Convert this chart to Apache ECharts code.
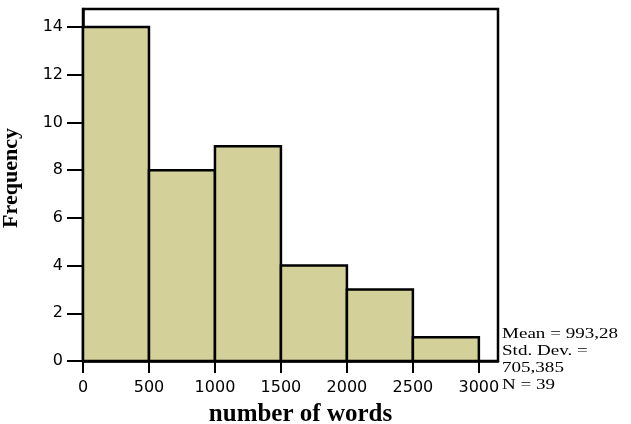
<!DOCTYPE html>
<html><head><meta charset="utf-8">
<script src="https://cdn.jsdelivr.net/npm/echarts@6/dist/echarts.min.js"></script>
<style>html,body{margin:0;padding:0;background:#fff}#c{width:631px;height:424px}</style>
</head><body><div id="c"></div>
<script>
const binStarts = [0, 500, 1000, 1500, 2000, 2500];
const binEnds = [500, 1000, 1500, 2000, 2500, 3000];
const counts = [14, 8, 9, 4, 3, 1];
const xTicks = [0, 500, 1000, 1500, 2000, 2500, 3000];
const yTicks = [0, 2, 4, 6, 8, 10, 12, 14];
const statsLines = ['Mean = 993,28', 'Std. Dev. =', '705,385', 'N = 39'];

const chart = echarts.init(document.getElementById('c'), null, {renderer: 'canvas'});
const data = binStarts.map((s, i) => [s, binEnds[i], counts[i]]);
chart.setOption({
  animation: false,
  grid: {left: 83, right: 133, top: 9, bottom: 63, show: true, borderColor: '#000', borderWidth: 2.5,
         backgroundColor: 'transparent', outerBoundsMode: 'none', containLabel: false},
  xAxis: {
    type: 'value', min: 0, max: 3145, interval: 500,
    name: 'number of words', nameLocation: 'middle', nameGap: 41,
    nameTextStyle: {fontFamily: 'Liberation Serif', fontWeight: 'bold', fontSize: 25, color: '#000',
                    padding: [0, 0, 0, 20]},
    axisLine: {show: true, onZero: false, lineStyle: {color: '#000', width: 2.5}},
    axisTick: {show: true, length: 12, lineStyle: {color: '#000', width: 2}, customValues: xTicks},
    axisLabel: {fontFamily: 'DejaVu Sans', fontSize: 16, color: '#000', margin: 19, customValues: xTicks,
                formatter: v => String(v)},
    splitLine: {show: false}
  },
  yAxis: {
    type: 'value', min: 0, max: 14.76, interval: 2,
    name: 'Frequency', nameLocation: 'middle', nameGap: 61, nameRotate: 90,
    nameTextStyle: {fontFamily: 'Liberation Serif', fontWeight: 'bold', fontSize: 22, color: '#000',
                    padding: [0, 0, 0, 14]},
    axisLine: {show: true, lineStyle: {color: '#000', width: 2.5}},
    axisTick: {show: true, length: 16, lineStyle: {color: '#000', width: 2}, customValues: yTicks},
    axisLabel: {fontFamily: 'DejaVu Sans', fontSize: 16, color: '#000', margin: 20, customValues: yTicks,
                formatter: v => String(v)},
    splitLine: {show: false}
  },
  series: [{
    type: 'custom',
    data: data,
    encode: {x: [0, 1], y: 2},
    renderItem: function (params, api) {
      const p0 = api.coord([api.value(0), api.value(2)]);
      const p1 = api.coord([api.value(1), 0]);
      return {
        type: 'rect',
        shape: {x: p0[0], y: p0[1], width: p1[0] - p0[0], height: p1[1] - p0[1]},
        style: {fill: '#d3d09a', stroke: '#000', lineWidth: 2.5}
      };
    }
  }],
  graphic: [{
    type: 'text', x: 502, y: 326, scaleX: 1.27,
    style: {text: statsLines.join('\n'), fontFamily: 'Liberation Serif', fontSize: 15, lineHeight: 16.8,
            fill: '#000', verticalAlign: 'top', align: 'left'}
  }]
});
</script></body></html>
